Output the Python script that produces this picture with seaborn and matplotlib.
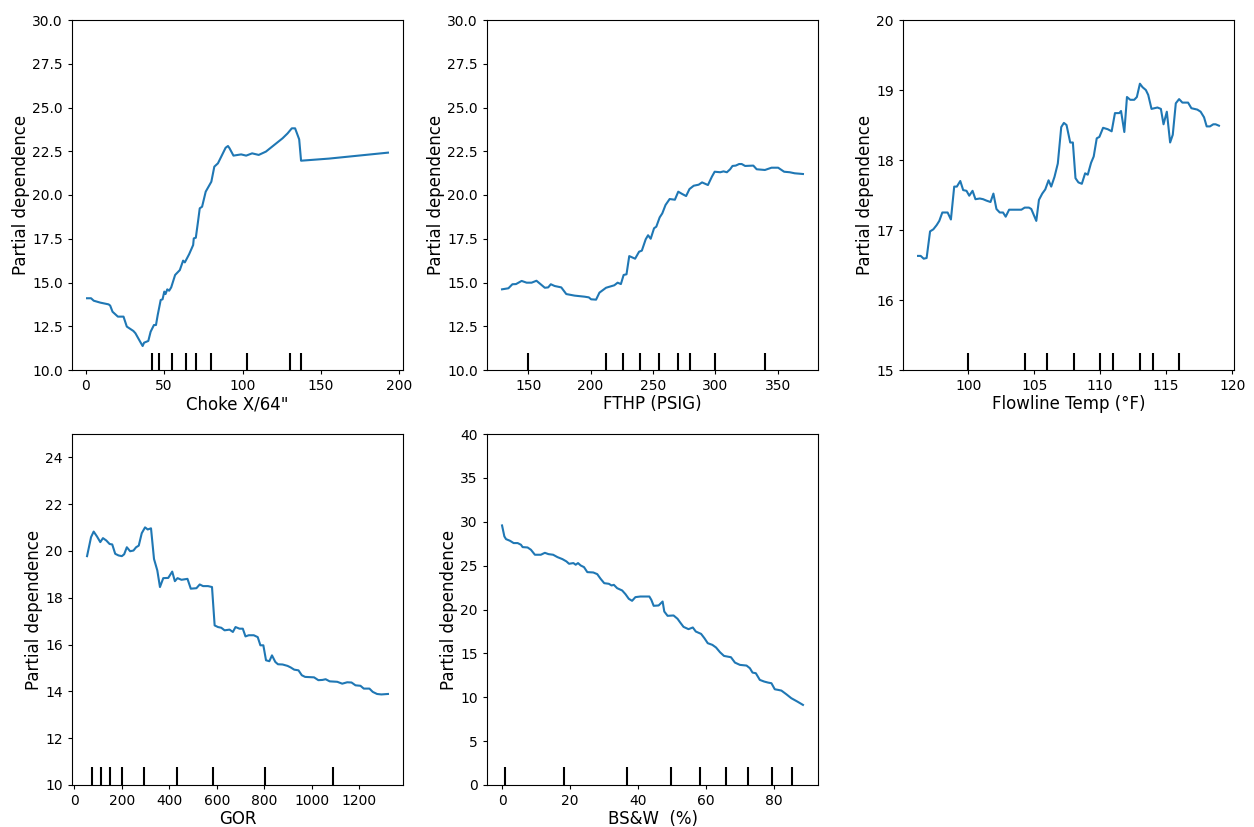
import numpy as np
import pandas as pd
import matplotlib
matplotlib.use("Agg")
import matplotlib.pyplot as plt
import seaborn as sns

# ---- Data ----
choke_x = [0.85, 3.4, 5.1, 9.3, 14.6, 15.6, 17.1, 20.5, 24.1, 26.2, 30.4, 31.7, 34.7, 36.3, 37.2, 39.9,
           41.4, 43.5, 44.8, 45.9, 47.8, 49.0, 50.1, 50.9, 52.0, 53.2, 54.5, 57.0, 60.0, 62.1, 63.2,
           65.9, 68.5, 68.9, 70.2, 71.6, 72.7, 74.2, 76.5, 80.1, 82.0, 84.3, 86.4, 89.2, 90.7, 91.7,
           94.2, 99.1, 102.3, 106.1, 110.3, 114.9, 120.2, 125.5, 128.7, 131.4, 133.5, 136.1, 137.3,
           155.1, 192.7]
choke_y = [14.10, 14.10, 13.96, 13.85, 13.75, 13.68, 13.33, 13.05, 13.05, 12.48, 12.23, 12.10, 11.62,
           11.37, 11.56, 11.66, 12.19, 12.57, 12.57, 13.14, 14.00, 14.04, 14.48, 14.34, 14.61, 14.53,
           14.72, 15.43, 15.71, 16.25, 16.15, 16.61, 17.14, 17.52, 17.56, 18.48, 19.24, 19.33, 20.19,
           20.76, 21.62, 21.81, 22.19, 22.70, 22.80, 22.67, 22.25, 22.32, 22.25, 22.38, 22.29, 22.48,
           22.86, 23.24, 23.52, 23.81, 23.81, 23.18, 21.96, 22.08, 22.42]
choke_deciles = [42, 47, 55, 64, 70, 80, 103, 130, 137]

fthp_x = [129.0, 134.1, 137.3, 140.2, 144.7, 148.7, 152.7, 156.6, 159.8, 163.3, 166.0, 168.1, 171.2,
          176.5, 180.5, 187.2, 195.1, 198.6, 200.4, 204.4, 207.1, 212.4, 219.0, 221.7, 224.3, 226.5,
          228.8, 231.0, 235.7, 238.9, 241.1, 244.2, 246.1, 248.2, 250.9, 252.7, 255.4, 257.5, 260.1,
          263.4, 267.6, 270.3, 273.4, 276.6, 279.3, 282.7, 286.7, 289.4, 294.1, 297.3, 299.5, 304.0,
          306.6, 309.3, 311.9, 313.8, 316.4, 319.1, 321.2, 323.9, 330.5, 333.2, 339.8, 345.1, 350.4,
          355.2, 359.7, 363.7, 370.3]
fthp_y = [14.61, 14.67, 14.90, 14.91, 15.09, 14.99, 14.99, 15.10, 14.91, 14.70, 14.72, 14.90, 14.80,
          14.72, 14.34, 14.25, 14.19, 14.15, 14.04, 14.02, 14.42, 14.70, 14.84, 14.99, 14.91, 15.43,
          15.47, 16.51, 16.36, 16.76, 16.82, 17.47, 17.70, 17.50, 18.10, 18.19, 18.72, 18.95, 19.43,
          19.77, 19.73, 20.19, 20.06, 19.94, 20.34, 20.53, 20.59, 20.72, 20.57, 21.05, 21.33, 21.30,
          21.35, 21.30, 21.47, 21.66, 21.68, 21.77, 21.77, 21.66, 21.68, 21.47, 21.43, 21.56, 21.56,
          21.33, 21.30, 21.24, 21.20]
fthp_deciles = [150, 212, 226, 240, 255, 270, 280, 300, 340]

temp_x = [96.2, 96.4, 96.63, 96.85, 97.11, 97.36, 97.61, 97.81, 98.04, 98.44, 98.69, 98.94, 99.14,
          99.40, 99.62, 99.87, 100.08, 100.33, 100.55, 100.88, 101.13, 101.38, 101.69, 101.91, 102.14,
          102.39, 102.64, 102.84, 103.10, 103.40, 103.77, 104.03, 104.28, 104.60, 104.78, 104.98,
          105.16, 105.36, 105.61, 105.84, 106.09, 106.29, 106.54, 106.79, 107.05, 107.25, 107.45,
          107.73, 107.93, 108.13, 108.35, 108.61, 108.86, 109.06, 109.31, 109.51, 109.74, 109.94,
          110.22, 110.57, 110.87, 111.12, 111.45, 111.58, 111.83, 112.03, 112.28, 112.58, 112.78,
          113.01, 113.21, 113.46, 113.64, 113.89, 114.34, 114.60, 114.80, 115.05, 115.30, 115.50,
          115.73, 115.98, 116.23, 116.66, 116.91, 117.36, 117.61, 117.87, 118.07, 118.32, 118.57,
          118.75, 119.00]
temp_y = [16.63, 16.63, 16.59, 16.60, 16.98, 17.01, 17.07, 17.13, 17.25, 17.25, 17.15, 17.62, 17.62,
          17.70, 17.57, 17.56, 17.49, 17.56, 17.44, 17.45, 17.44, 17.42, 17.40, 17.52, 17.30, 17.25,
          17.25, 17.19, 17.29, 17.29, 17.29, 17.29, 17.32, 17.32, 17.30, 17.21, 17.13, 17.43, 17.52,
          17.58, 17.71, 17.62, 17.76, 17.95, 18.47, 18.53, 18.50, 18.25, 18.25, 17.74, 17.68, 17.66,
          17.81, 17.79, 17.96, 18.05, 18.31, 18.33, 18.46, 18.44, 18.41, 18.67, 18.67, 18.70, 18.40,
          18.90, 18.86, 18.86, 18.90, 19.09, 19.04, 19.00, 18.93, 18.73, 18.75, 18.73, 18.51, 18.69,
          18.25, 18.36, 18.81, 18.87, 18.82, 18.82, 18.74, 18.72, 18.69, 18.61, 18.48, 18.48, 18.51,
          18.51, 18.49]
temp_deciles = [100, 104.3, 106, 108, 110, 111, 113, 114, 116]

gor_x = [53, 69.8, 80.9, 94.9, 108.8, 120, 134, 147.9, 159.1, 171.6, 185.6, 199.5, 209.3, 220.5, 234.4,
         248.4, 259.5, 270.7, 283.3, 297.2, 308.4, 322.3, 334.9, 348.8, 360, 373.9, 394.9, 411.6, 422.8,
         433.9, 450.7, 475.8, 489.8, 513.5, 527.4, 541.4, 562.3, 579.1, 590.2, 604.2, 618.1, 632.1, 653,
         667, 678.1, 694.9, 708.8, 720, 734, 754.9, 771.6, 782.8, 795.3, 806.5, 820.5, 831.6, 845.6,
         856.7, 876.3, 897.2, 911.1, 925.1, 943.2, 957.2, 971.1, 1008.8, 1026.9, 1043.7, 1057.6, 1074.4,
         1106.5, 1127.4, 1148.3, 1166.5, 1183.2, 1204.1, 1218.1, 1241.8, 1255.8, 1273.9, 1292.1, 1319.9]
gor_y = [19.78, 20.59, 20.83, 20.62, 20.38, 20.55, 20.45, 20.30, 20.28, 19.88, 19.81, 19.78, 19.86, 20.16,
         19.99, 20.02, 20.16, 20.23, 20.76, 21.01, 20.92, 20.97, 19.66, 19.17, 18.46, 18.84, 18.85, 19.12,
         18.71, 18.84, 18.77, 18.81, 18.39, 18.41, 18.57, 18.50, 18.50, 18.46, 16.82, 16.75, 16.72, 16.61,
         16.64, 16.54, 16.75, 16.68, 16.68, 16.35, 16.40, 16.40, 16.32, 15.97, 15.97, 15.33, 15.29, 15.54,
         15.26, 15.16, 15.15, 15.09, 15.02, 14.93, 14.90, 14.69, 14.62, 14.60, 14.48, 14.49, 14.52, 14.43,
         14.41, 14.33, 14.39, 14.38, 14.26, 14.24, 14.12, 14.12, 13.98, 13.89, 13.87, 13.89]
gor_deciles = [73, 113, 151, 199, 292, 433, 582, 802, 1087]

bsw_x = [0, 0.68, 1.17, 2.34, 3.41, 4.59, 5.56, 6.05, 7.51, 8.49, 9.66, 11.41, 12.59, 13.66, 15.02, 16.29,
         17.76, 18.93, 19.71, 20.98, 21.66, 22.34, 23.12, 24.10, 25.07, 26.83, 28.0, 28.98, 30.05, 31.41,
         32.2, 32.88, 33.85, 35.32, 36.29, 37.27, 38.24, 39.22, 40.68, 43.32, 43.9, 44.59, 46.05, 47.22,
         47.71, 48.68, 50.44, 51.61, 52.39, 53.37, 54.83, 56.1, 56.98, 58.54, 59.51, 60.49, 61.85, 62.93,
         64.1, 65.27, 67.32, 68.49, 69.95, 71.9, 72.88, 73.66, 74.63, 75.8, 77.07, 78.24, 79.22, 80.2,
         81.17, 82.15, 83.61, 85.07, 86.83, 88.49]
bsw_y = [29.58, 28.33, 28.02, 27.83, 27.57, 27.57, 27.38, 27.11, 27.07, 26.81, 26.24, 26.24, 26.46, 26.31,
         26.24, 25.97, 25.74, 25.48, 25.21, 25.29, 25.10, 25.29, 25.02, 24.83, 24.26, 24.22, 24.03, 23.50,
         23.00, 22.93, 22.74, 22.81, 22.43, 22.17, 21.75, 21.22, 20.99, 21.41, 21.48, 21.48, 21.10, 20.42,
         20.46, 20.91, 19.77, 19.28, 19.32, 18.94, 18.52, 18.02, 17.76, 17.95, 17.49, 17.22, 16.73, 16.16,
         15.97, 15.67, 15.13, 14.71, 14.56, 13.95, 13.69, 13.61, 13.31, 12.81, 12.74, 11.98, 11.79, 11.67,
         11.60, 10.91, 10.84, 10.76, 10.34, 9.89, 9.51, 9.13]
bsw_deciles = [1, 18.2, 36.6, 49.6, 58.1, 65.8, 72.2, 79.3, 85.2]

feature_names = ['Choke X/64"', 'FTHP (PSIG)', 'Flowline Temp (°F)', 'GOR', 'BS&W  (%)']
y_limits = [(10, 30), (10, 30), (15, 20), (10, 25), (0, 40)]

panels = [
    (choke_x, choke_y, choke_deciles),
    (fthp_x, fthp_y, fthp_deciles),
    (temp_x, temp_y, temp_deciles),
    (gor_x, gor_y, gor_deciles),
    (bsw_x, bsw_y, bsw_deciles),
]

# ---- Figure ----
W, H = 1254, 827
fig = plt.figure(figsize=(W / 100, H / 100), dpi=100)

col_left = [72, 487, 903]
ax_w = 331
rows = [(20, 370), (434, 785)]

for i, ((xs, ys, dec), name, yl) in enumerate(zip(panels, feature_names, y_limits)):
    r, c = divmod(i, 3)
    top, bot = rows[r]
    ax = fig.add_axes([col_left[c] / W, 1 - bot / H, ax_w / W, (bot - top) / H])
    df = pd.DataFrame({"x": xs, "y": ys})
    sns.lineplot(data=df, x="x", y="y", ax=ax, color="#1f77b4", linewidth=1.5,
                 estimator=None, sort=True)
    ax.set_ylim(*yl)
    sns.rugplot(x=dec, ax=ax, height=0.05, color="black", linewidth=1.5, expand_margins=False)
    ax.set_ylim(*yl)
    ax.set_xlabel(name, fontsize=12, labelpad=1.5)
    ax.set_ylabel("Partial dependence", fontsize=12, labelpad=1.5)
    ax.tick_params(labelsize=10, length=3.2)

fig.savefig("out.png", dpi=100)
